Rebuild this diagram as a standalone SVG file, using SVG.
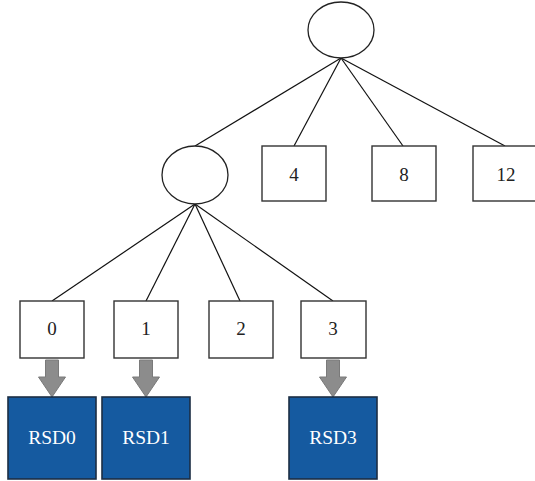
<svg xmlns="http://www.w3.org/2000/svg" width="535" height="481" viewBox="0 0 535 481">
  <defs>
    <style>
      .edge { stroke: #111; stroke-width: 1.2; fill: none; }
      .inner { fill: #fff; stroke: #222; stroke-width: 1.3; }
      .leaf { fill: #fff; stroke: #333; stroke-width: 1.4; }
      .dev { fill: #155aa0; stroke: #1c2e44; stroke-width: 1.6; }
      .num { font-family: "Liberation Serif", "Times New Roman", serif; font-size: 19px; fill: #222; text-anchor: middle; }
      .devtxt { font-family: "Liberation Serif", "Times New Roman", serif; font-size: 19.5px; fill: #fff; text-anchor: middle; }
      .map { fill: #8c8c8c; stroke: #7a7a7a; stroke-width: 1; }
    </style>
    <path id="down" d="M-6.5,0 H6.5 V17 H13.5 L0,37 L-13.5,17 H-6.5 Z"/>
  </defs>

  <g id="connectors">
    <line class="edge" x1="341" y1="58" x2="195" y2="146"/>
    <line class="edge" x1="341" y1="58" x2="294" y2="146"/>
    <line class="edge" x1="341" y1="58" x2="403" y2="146"/>
    <line class="edge" x1="341" y1="58" x2="505" y2="146"/>
    <line class="edge" x1="195" y1="204" x2="52" y2="301"/>
    <line class="edge" x1="195" y1="204" x2="146" y2="301"/>
    <line class="edge" x1="195" y1="204" x2="240" y2="301"/>
    <line class="edge" x1="195" y1="204" x2="333" y2="301"/>
    <use href="#down" class="map" x="52" y="360"/>
    <use href="#down" class="map" x="146" y="360"/>
    <use href="#down" class="map" x="333" y="360"/>
  </g>

  <g id="root">
    <ellipse class="inner" cx="341" cy="30" rx="33" ry="28"/>
  </g>
  <g id="inner0">
    <ellipse class="inner" cx="195" cy="175" rx="33" ry="29"/>
  </g>

  <g id="leaf4">
    <rect class="leaf" x="262" y="146" width="64" height="55"/>
    <text class="num" x="294" y="181">4</text>
  </g>
  <g id="leaf8">
    <rect class="leaf" x="372" y="146" width="64" height="55"/>
    <text class="num" x="404" y="181">8</text>
  </g>
  <g id="leaf12">
    <rect class="leaf" x="473" y="146" width="64" height="55"/>
    <text class="num" x="506" y="181">12</text>
  </g>

  <g id="leaf0">
    <rect class="leaf" x="20" y="301" width="64" height="57"/>
    <text class="num" x="52" y="335">0</text>
  </g>
  <g id="leaf1">
    <rect class="leaf" x="114" y="301" width="64" height="57"/>
    <text class="num" x="146" y="335">1</text>
  </g>
  <g id="leaf2">
    <rect class="leaf" x="209" y="301" width="64" height="57"/>
    <text class="num" x="241" y="335">2</text>
  </g>
  <g id="leaf3">
    <rect class="leaf" x="301" y="301" width="65" height="57"/>
    <text class="num" x="333" y="335">3</text>
  </g>

  <g id="rsd0">
    <rect class="dev" x="8" y="397" width="88" height="82"/>
    <text class="devtxt" x="52" y="444">RSD0</text>
  </g>
  <g id="rsd1">
    <rect class="dev" x="102" y="397" width="88" height="82"/>
    <text class="devtxt" x="146" y="444">RSD1</text>
  </g>
  <g id="rsd3">
    <rect class="dev" x="289" y="397" width="88" height="82"/>
    <text class="devtxt" x="333" y="444">RSD3</text>
  </g>
</svg>
